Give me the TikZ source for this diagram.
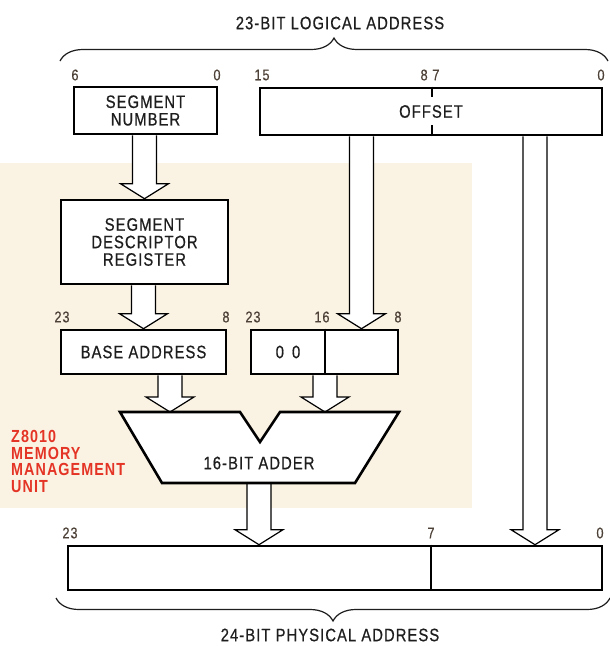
\documentclass[tikz,border=0pt]{standalone}
\usepackage{fontspec}
\setmainfont[FakeStretch=0.82,LetterSpace=6,UprightFeatures={FakeBold=0.6}]{Liberation Sans}
\usetikzlibrary{calc,decorations.pathreplacing}
\definecolor{bgc}{RGB}{250,243,228}
\definecolor{mmured}{RGB}{228,52,38}
\definecolor{numc}{RGB}{78,66,56}
\definecolor{txt}{RGB}{30,30,30}
\pgfdeclarelayer{back}
\pgfdeclarelayer{mid}
\pgfsetlayers{back,mid,main}
\newcommand\fatarrow[2]{\draw[fat] let \p1=(#1), \p2=(#2) in
  (\x2-12pt,\y1) -- (\x2-12pt,\y2+15pt) -- (\x2-24pt,\y2+15pt) -- (\x2,\y2)
  -- (\x2+24pt,\y2+15pt) -- (\x2+12pt,\y2+15pt) -- (\x2+12pt,\y1);}
\begin{document}
\begin{tikzpicture}[x=1pt,y=-1pt,
  reg/.style={draw=black,line width=2.6pt,fill=white,inner sep=0pt,text=txt,
    font=\fontsize{18}{17.5}\selectfont,align=center},
  num/.style={text=numc,font=\fontsize{15.5}{15.5}\selectfont,inner sep=0pt},
  lbl/.style={text=txt,font=\fontsize{18}{18}\selectfont,inner sep=0pt},
  fat/.style={draw=black,line width=1.2pt,fill=white,line join=miter},
  brc/.style={draw=txt,line width=1.2pt,decorate,decoration={brace,amplitude=23pt}},
  divider/.style={draw=black,line width=2.2pt}]
\useasboundingbox (0,0) rectangle (610,646);
\begin{pgfonlayer}{back}
  \fill[bgc] (0,163) rectangle (472,508);
\end{pgfonlayer}

% titles and braces
\node[lbl] (lt) at (340,23) {23-BIT LOGICAL ADDRESS};
\draw[brc] (60,61) -- (608,61);
\node[lbl] (pt) at (330,635) {24-BIT PHYSICAL ADDRESS};
\draw[brc] (610,598) -- (56,598);

% registers
\node[reg,minimum width=143pt,minimum height=47pt] (seg) at (145.5,110.5) {SEGMENT\\NUMBER};
\node[reg,minimum width=342pt,minimum height=47pt] (off) at (431,111.5) {OFFSET};
\coordinate (tk) at (432,0);
\draw[divider] (off.north -| tk) -- ++(0,10);
\draw[divider] (off.south -| tk) -- ++(0,-11);
\node[reg,minimum width=167pt,minimum height=84pt] (desc) at (144.5,242) {SEGMENT\\DESCRIPTOR\\REGISTER};
\node[reg,minimum width=165pt,minimum height=44pt] (base) at (143.5,352) {BASE ADDRESS};
\node[reg,minimum width=147pt,minimum height=44pt] (zz) at (324.5,352) {};
\coordinate (zd) at (325,0);
\draw[divider] (zz.north -| zd) -- (zz.south -| zd);
\node[lbl] (zeros) at (288,352) {0\hspace{0.45em}0};
\node[reg,minimum width=534pt,minimum height=44pt] (phys) at (335,568) {};
\coordinate (pd) at (431,0);
\draw[divider] (phys.north -| pd) -- (phys.south -| pd);

% adder
\draw[line width=2.6pt,fill=white,line join=miter] (120,412) -- (240,412) -- (260,442)
  -- (280,412) -- (399,412) -- (355,483) -- (162,483) -- cycle;
\node[lbl] (adder) at (259,463) {16-BIT ADDER};
\coordinate (adL) at (170,412);
\coordinate (adR) at (325,412);
\coordinate (adB) at (259,483);

% fat arrows
\coordinate (oa) at (361.5,0);
\coordinate (ob) at (535,0);
\begin{pgfonlayer}{mid}
\fatarrow{seg.south}{desc.north}
\fatarrow{desc.south}{base.north}
\fatarrow{off.south -| oa}{zz.north -| oa}
\fatarrow{off.south -| ob}{phys.north -| ob}
\fatarrow{base.south -| adL}{adL}
\fatarrow{zz.south -| adR}{adR}
\fatarrow{adB}{phys.north -| adB}
\end{pgfonlayer}

% bit numbers
\node[num] (a6) at (75,75) {6};
\node[num] (a0) at (217,75) {0};
\node[num] (a15) at (262,75) {15};
\node[num] (a87) at (430,75) {8\hspace{0.3em}7};
\node[num] (b0) at (601,75) {0};
\node[num] (c23) at (62,317) {23};
\node[num] (c8) at (226,317) {8};
\node[num] (d23) at (253,317) {23};
\node[num] (d16) at (322,317) {16};
\node[num] (d8) at (398,317) {8};
\node[num] (e23) at (70,533) {23};
\node[num] (e7) at (431,533) {7};
\node[num] (e0) at (600,533) {0};

% MMU label
\node[anchor=north west,text=mmured,font=\bfseries\fontsize{17.5}{16.7}\selectfont,
  align=left,inner sep=0pt] (mmu) at (11,430) {Z8010\\MEMORY\\MANAGEMENT\\UNIT};
\end{tikzpicture}
\end{document}
